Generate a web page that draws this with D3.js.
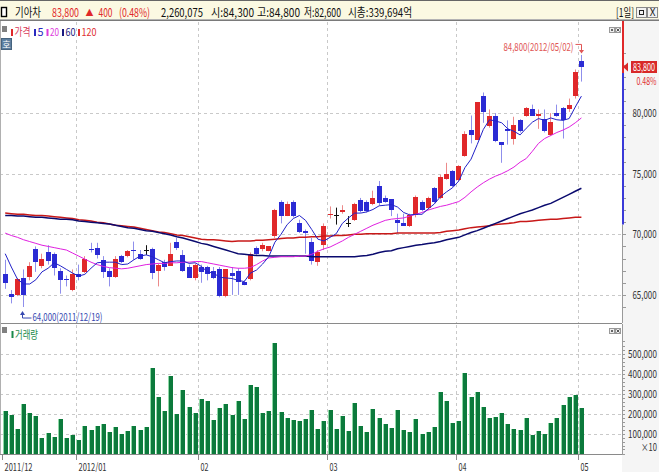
<!DOCTYPE html>
<html><head><meta charset="utf-8">
<script src="https://cdn.jsdelivr.net/npm/d3@7"></script>
<style>html,body{margin:0;padding:0;background:#fff;}svg{display:block;}</style>
</head><body>
<svg id="c" width="659" height="472"></svg>
<script>
// ---------------- DATA ----------------
const dates = ["2011/12/14","2011/12/15","2011/12/16","2011/12/19","2011/12/20","2011/12/21","2011/12/22","2011/12/23","2011/12/26","2011/12/27","2011/12/28","2011/12/29",
"2012/01/02","2012/01/03","2012/01/04","2012/01/05","2012/01/06","2012/01/09","2012/01/10","2012/01/11","2012/01/12","2012/01/13","2012/01/16","2012/01/17","2012/01/18","2012/01/19","2012/01/20","2012/01/25","2012/01/26","2012/01/27","2012/01/30","2012/01/31",
"2012/02/01","2012/02/02","2012/02/03","2012/02/06","2012/02/07","2012/02/08","2012/02/09","2012/02/10","2012/02/13","2012/02/14","2012/02/15","2012/02/16","2012/02/17","2012/02/20","2012/02/21","2012/02/22","2012/02/23","2012/02/24","2012/02/27","2012/02/28","2012/02/29",
"2012/03/02","2012/03/05","2012/03/06","2012/03/07","2012/03/08","2012/03/09","2012/03/12","2012/03/13","2012/03/14","2012/03/15","2012/03/16","2012/03/19","2012/03/20","2012/03/21","2012/03/22","2012/03/23","2012/03/26","2012/03/27","2012/03/28","2012/03/29","2012/03/30",
"2012/04/02","2012/04/03","2012/04/04","2012/04/05","2012/04/06","2012/04/09","2012/04/10","2012/04/12","2012/04/13","2012/04/16","2012/04/17","2012/04/18","2012/04/19","2012/04/20","2012/04/23","2012/04/24","2012/04/25","2012/04/26","2012/04/27","2012/04/30",
"2012/05/02"];
const open = [66700,65100,65000,66400,66500,68800,67400,68500,68400,67000,66300,65400,66700,66900,68800,68900,67900,67000,66500,68200,
68200,68700,68400,68700,68800,67000,67700,67400,69400,68300,67300,66400,67300,67300,67000,67100,64900,66800,67000,66100,
66300,68900,68800,68600,69900,72700,71500,72700,70900,70300,69400,67700,69100,71600,71600,71800,70900,71200,72800,72700,
72500,74000,73000,72900,71200,70900,70700,71600,72700,72200,73800,73000,74600,75200,74500,76500,78600,77800,81400,78900,
79800,77600,78700,77900,79400,79800,80300,79800,79500,78200,80000,80400,80300,81400,84300];
const high = [67900,65400,66400,67100,67700,69000,68400,69100,68500,67200,66600,67100,67500,68200,69300,69300,68200,67200,68200,68300,
68700,69400,68700,69100,68900,67600,67900,69300,69700,68700,67500,67600,67500,67400,67300,67300,67100,67300,67200,66200,
68500,69000,69300,69000,72100,72800,72700,72800,71200,70400,69700,68700,70900,72300,72200,72400,71500,72600,73000,72800,
73600,74400,73200,72900,71700,71700,71700,73200,72800,73100,73900,74900,75900,75300,75700,78500,79800,80900,81700,80300,
80000,77600,79400,79700,79500,80500,80700,80300,80300,80000,80700,80500,81200,83600,84800];
const low = [65500,64300,64900,64000,66200,66900,67200,67500,66600,65100,65700,65300,66200,66800,68500,68000,66400,65700,66400,67600,
68100,67900,67900,68300,66300,65700,67000,67400,68700,66900,66400,66200,66000,66200,66300,64800,64800,65000,65000,65800,
66200,68300,68600,68600,69700,70900,71500,71400,70100,68400,67500,67400,68700,71300,70800,71700,70600,71100,71800,71800,
72400,72400,72600,71500,70100,70700,70600,71400,71900,72000,72600,72900,74500,73900,74400,76400,77500,77800,79200,78800,
77600,75900,77400,77400,78400,79700,79800,78700,78400,78100,79700,77900,80100,81200,82600];
const close = [66000,64800,66300,65000,67400,67700,68000,67800,67200,66200,66200,66700,66500,68000,68700,68300,66900,66500,68000,67700,
68600,68600,68000,68700,66800,67500,67300,68400,68900,67000,66400,67500,66900,66700,66400,64900,67100,66600,66100,65800,
68400,68400,69100,69000,72000,71500,72500,71500,70200,70100,67800,68500,70700,71700,71600,72000,70900,72500,71900,71900,
73000,72600,72700,72000,70900,70700,71600,73100,72000,73000,72700,74700,75000,74000,75600,78300,78200,80900,80100,79800,
77700,77400,78500,79000,78500,80400,79800,79900,78500,79300,79800,79400,80700,83400,83800];
// volume (axis unit: x10 shares)
const volume = [214000,192500,124000,247500,202500,187500,77500,102500,82500,172500,77500,92500,67500,137500,117500,137500,147500,107500,132500,97500,
112500,137500,117500,132500,427500,282500,212500,387500,197500,317500,232500,202500,272500,262500,167500,227500,247500,192500,262500,172500,
342500,332500,202500,212500,552500,207500,177500,167500,162500,172500,217500,122500,162500,217500,122500,187500,112500,252500,137500,107500,
222500,177500,147500,127500,217500,117500,107500,172500,97500,107500,132500,307500,262500,152500,162500,402500,282500,307500,232500,177500,
182500,202500,147500,122500,117500,177500,92500,112500,97500,152500,177500,242500,282500,292500,226008];
const ma5 = [68400,67300,66300,65900,65900,66250,66900,67200,67650,67400,67100,66800,66550,66700,67200,67650,67700,67700,67700,67500,
67550,67900,68200,68300,68150,67900,67650,67750,67800,67800,67600,67650,67350,66900,66800,66450,66400,66350,66200,66100,
66800,67050,67550,68150,69350,70000,70800,71300,71550,71150,70400,69600,69450,69750,70050,70900,71350,71750,71750,71850,
72050,72350,72400,72450,72250,71800,71600,71650,71650,72100,72500,73100,73500,73850,74400,75500,76200,77400,78650,79450,
79350,79200,78700,78500,78200,78750,79250,79550,79400,79600,79450,79400,79550,80500,81400];
const ma20 = [70100,69900,69750,69550,69400,69250,69100,69000,68900,68800,68700,68450,68200,67950,67700,67500,67350,67250,67200,67150,
67200,67300,67400,67500,67550,67600,67600,67650,67650,67700,67700,67750,67750,67650,67550,67450,67350,67250,67200,67200,
67250,67500,67800,68050,68100,68150,68150,68150,68200,68200,68350,68600,68800,68950,69200,69450,69750,70000,70250,70500,
70750,70950,71150,71250,71300,71350,71500,71650,71800,72000,72150,72300,72400,72550,72700,73050,73500,73900,74250,74550,
74800,75000,75250,75550,75950,76250,76850,77500,77900,78150,78400,78600,78850,79200,79600];
const ma60 = [71550,71550,71500,71500,71450,71400,71400,71350,71300,71250,71250,71200,71100,71050,71000,70950,70900,70850,70750,70650,
70550,70500,70400,70300,70250,70150,70050,69950,69800,69700,69550,69400,69250,69150,69000,68850,68700,68550,68400,68350,
68300,68250,68250,68200,68200,68200,68200,68200,68200,68200,68150,68150,68150,68150,68150,68150,68150,68150,68200,68250,
68350,68500,68600,68650,68800,68900,69000,69100,69150,69250,69300,69400,69550,69650,69750,69950,70150,70300,70500,70700,
70900,71100,71300,71500,71700,71850,72000,72200,72400,72550,72800,73050,73300,73550,73800];
const ma120 = [71750,71700,71650,71650,71600,71550,71550,71500,71450,71400,71350,71300,71200,71150,71100,71000,70950,70850,70750,70700,
70650,70600,70500,70400,70300,70200,70150,70050,69950,69900,69800,69700,69600,69550,69550,69500,69450,69400,69450,69450,
69450,69500,69500,69550,69600,69650,69700,69700,69750,69750,69800,69800,69850,69850,69900,69900,69950,70000,70000,70050,
70050,70050,70050,70050,70100,70100,70100,70100,70100,70100,70100,70150,70250,70300,70350,70450,70550,70600,70650,70700,
70800,70850,70900,70950,71050,71050,71100,71150,71200,71250,71250,71300,71350,71400,71400];
const priceTicks = [65000,70000,75000,80000];
const volumeTicks = [100000,200000,300000,400000,500000];
const monthLabels = ["2011/12","2012/01","02","03","04","05"];
const monthFirstDates = ["2011/12/14","2012/01/02","2012/02/01","2012/03/02","2012/04/02","2012/05/02"];
const maNames = ["5","20","60","120"];
const headerInfo = {name:"기아차", price:"83,800", change:"400", pct:"(0.48%)", vol:"2,260,075",
  open:"시:84,300", high:"고:84,800", low:"저:82,600", cap:"시총:339,694억"};
const lastPrice = 83800, lastPct = "0.48%";
const rangeBar = [83300, 70800];

// ---------------- SETUP ----------------
const svg = d3.select("#c");
const FONT = '"Noto Sans CJK KR","Noto Sans",sans-serif';
function txt(p, x, y, s, o = {}) {
  const t = p.append("text").attr("x", x).attr("y", y).text(s)
    .attr("font-family", FONT).attr("font-size", o.size || 11)
    .attr("fill", o.fill || "#222").attr("text-anchor", o.anchor || "start");
  if (o.len) t.attr("textLength", o.len).attr("lengthAdjust", "spacingAndGlyphs");
  if (o.weight) t.attr("font-weight", o.weight);
  return t;
}
const PL = 0, PR = 622, PT = 21, PB = 323, VT = 324, VB = 454;
const N = dates.length;
const x = d3.scaleLinear().domain([0, N - 1]).range([4.7, 580.9]);
const yP = d3.scaleLinear().domain([65000, 80000]).range([294.9, 113.1]);
const yV = d3.scaleLinear().domain([0, 500000]).range([453.5, 353.5]);
const cx = i => Math.round(x(i));
const crisp = v => Math.round(v) + 0.5;

const RED = "#e0282a", BLUE = "#2b2bd4";

// backgrounds
svg.append("rect").attr("width", 659).attr("height", 472).attr("fill", "#fff");
svg.append("rect").attr("x", PR).attr("y", PT).attr("width", 659 - PR).attr("height", 472 - PT).attr("fill", "#f5f5f5");

// ---------------- HEADER ----------------
svg.append("rect").attr("x", 0).attr("y", 0).attr("width", 659).attr("height", 20).attr("fill", "#fbf9e2");
svg.append("line").attr("x1", 0).attr("x2", 659).attr("y1", 0.5).attr("y2", 0.5).attr("stroke", "#666");
svg.append("line").attr("x1", 0).attr("x2", 659).attr("y1", 19.5).attr("y2", 19.5).attr("stroke", "#b4b4b4");
svg.append("line").attr("x1", 0).attr("x2", 659).attr("y1", 20.5).attr("y2", 20.5).attr("stroke", "#7a7a7a");
svg.append("rect").attr("x", 1.5).attr("y", 7.5).attr("width", 5).attr("height", 9).attr("fill", "#fff").attr("stroke", "#000").attr("stroke-width", 1.4);
const hb = 16.8;
txt(svg, 15, hb, headerInfo.name, {size: 12, len: 26, fill: "#111"});
txt(svg, 52, hb, headerInfo.price, {size: 12, len: 27, fill: RED});
txt(svg, 85.5, hb - 0.5, "▲", {size: 9, len: 8, fill: RED});
txt(svg, 98.5, hb, headerInfo.change, {size: 12, len: 14, fill: RED});
txt(svg, 119, hb, headerInfo.pct, {size: 12, len: 31, fill: RED});
txt(svg, 161, hb, headerInfo.vol, {size: 12, len: 42, fill: "#111"});
txt(svg, 211, hb, headerInfo.open, {size: 12, len: 43, fill: "#111"});
txt(svg, 257, hb, headerInfo.high, {size: 12, len: 43, fill: "#111"});
txt(svg, 304, hb, headerInfo.low, {size: 12, len: 37, fill: "#111"});
txt(svg, 348, hb, headerInfo.cap, {size: 12, len: 64, fill: "#111"});
txt(svg, 616, hb, "[1일]", {size: 12, len: 18, fill: "#111"});
svg.append("rect").attr("x", 636.5).attr("y", 7.5).attr("width", 10).attr("height", 10).attr("fill", "#f2f2f2").attr("stroke", "#8a8a8a");
svg.append("rect").attr("x", 639.5).attr("y", 10.5).attr("width", 4).attr("height", 4).attr("fill", "none").attr("stroke", "#222");
svg.append("rect").attr("x", 647.5).attr("y", 7.5).attr("width", 10).attr("height", 10).attr("fill", "#f2f2f2").attr("stroke", "#8a8a8a");
txt(svg, 652.5, 16, "X", {size: 10, anchor: "middle", fill: "#222"});

// ---------------- GRID ----------------
const grid = svg.append("g").attr("stroke", "#c9c9c9").attr("stroke-dasharray", "3,3").attr("stroke-width", 1);
const monthIdx = monthFirstDates.map(d => dates.indexOf(d));
const monthX = monthIdx.map(i => crisp(x(i) - 2.5));
monthX.forEach((mx, k) => {
  if (k === 0) return;
  grid.append("line").attr("x1", mx).attr("x2", mx).attr("y1", PT + 1).attr("y2", PB);
  grid.append("line").attr("x1", mx).attr("x2", mx).attr("y1", VT + 1).attr("y2", VB);
});
priceTicks.forEach(p => grid.append("line").attr("x1", PL).attr("x2", PR).attr("y1", crisp(yP(p))).attr("y2", crisp(yP(p))));
volumeTicks.forEach(v => grid.append("line").attr("x1", PL).attr("x2", PR).attr("y1", crisp(yV(v))).attr("y2", crisp(yV(v))));

// ---------------- CANDLES ----------------
const cg = svg.append("g");
d3.range(N).forEach(i => {
  const o = open[i], c = close[i], h = high[i], l = low[i];
  const up = c > o, doji = c === o;
  const col = doji ? "#111" : (up ? RED : BLUE);
  const wcol = doji ? "#111" : (up ? "#ec8a8a" : "#8f8fec");
  const X = cx(i);
  cg.append("line").attr("x1", X + 0.5).attr("x2", X + 0.5)
    .attr("y1", yP(h)).attr("y2", yP(l)).attr("stroke", wcol).attr("stroke-width", 1);
  if (doji) {
    cg.append("line").attr("x1", X - 2).attr("x2", X + 3).attr("y1", crisp(yP(o))).attr("y2", crisp(yP(o)))
      .attr("stroke", col).attr("stroke-width", 1);
  } else {
    const yt = yP(Math.max(o, c)), yb = yP(Math.min(o, c));
    cg.append("rect").attr("x", X - 2).attr("width", 5)
      .attr("y", Math.round(yt)).attr("height", Math.max(1, Math.round(yb) - Math.round(yt)))
      .attr("fill", col);
  }
});

// ---------------- MOVING AVERAGES ----------------
const line = arr => d3.line().x((d, i) => x(i) + 0.5).y(d => yP(d))(arr);
svg.append("path").attr("d", line(ma120)).attr("fill", "none").attr("stroke", "#c81818").attr("stroke-width", 1.5);
svg.append("path").attr("d", line(ma60)).attr("fill", "none").attr("stroke", "#0a0a6e").attr("stroke-width", 1.5);
svg.append("path").attr("d", line(ma20)).attr("fill", "none").attr("stroke", "#e020e0").attr("stroke-width", 1);
svg.append("path").attr("d", line(ma5)).attr("fill", "none").attr("stroke", "#2222c8").attr("stroke-width", 1);

// ---------------- ANNOTATIONS ----------------
const hiIdx = high.indexOf(d3.max(high)), loIdx = low.indexOf(d3.min(low));
const hx = cx(hiIdx) + 0.5, hy = yP(high[hiIdx]);
const ann = svg.append("g");
txt(ann, hx - 8, hy - 4, d3.format(",")(high[hiIdx]) + "(" + dates[hiIdx] + ")", {size: 11, len: 70, fill: "#e05555", anchor: "end"});
ann.append("path").attr("d", `M${hx - 6},${hy - 10.5}H${hx}V${hy - 3}`).attr("fill", "none").attr("stroke", "#e05555");
ann.append("path").attr("d", `M${hx - 2.5},${hy - 5}L${hx + 2.5},${hy - 5}L${hx},${hy - 1.5}Z`).attr("fill", "#e05555");
const lx = cx(loIdx) + 0.5, ly = yP(low[loIdx]);
ann.append("path").attr("d", `M${lx - 1},${ly + 5}V${ly + 11}H${lx + 8}`).attr("fill", "none").attr("stroke", "#3548b0");
ann.append("path").attr("d", `M${lx - 3.5},${ly + 8}L${lx + 1.5},${ly + 8}L${lx - 1},${ly + 4}Z`).attr("fill", "#3548b0");
txt(ann, lx + 9, ly + 14, d3.format(",")(low[loIdx]) + "(" + dates[loIdx] + ")", {size: 11, len: 70, fill: "#3548b0"});

// ---------------- VOLUME ----------------
const vg = svg.append("g");
d3.range(N).forEach(i => {
  const X = cx(i);
  const yt = Math.round(yV(volume[i]));
  vg.append("rect").attr("x", X - 2).attr("width", 1).attr("y", yt).attr("height", VB - yt).attr("fill", "#8fd9a6");
  vg.append("rect").attr("x", X - 1).attr("width", 4).attr("y", yt).attr("height", VB - yt).attr("fill", "#0c7a3c");
});

// ---------------- FRAMES / AXES ----------------
const fr = svg.append("g");
fr.append("line").attr("x1", 0).attr("x2", PR).attr("y1", PB + 0.5).attr("y2", PB + 0.5).attr("stroke", "#8a8a8a");
fr.append("line").attr("x1", 0).attr("x2", PR).attr("y1", VB + 0.5).attr("y2", VB + 0.5).attr("stroke", "#8a8a8a");
fr.append("line").attr("x1", 0.5).attr("x2", 0.5).attr("y1", PT).attr("y2", VB).attr("stroke", "#b0b0b0");
// x-axis ticks and labels
monthX.forEach((mx, k) => {
  fr.append("line").attr("x1", mx).attr("x2", mx).attr("y1", VB).attr("y2", VB + 6).attr("stroke", "#8a8a8a");
  const lab = monthLabels[k];
  txt(fr, mx + 2, 470.5, lab, {size: 11, fill: "#333", len: lab.length > 2 ? 28 : 8});
});
// right price axis
const yTop = yP(rangeBar[0]), yBot = yP(rangeBar[1]);
d3.range(64000, 85001, 1000).forEach(p => {
  const yy = crisp(yP(p));
  if (yy > PT && yy < PB) fr.append("line").attr("x1", PR).attr("x2", PR + 4).attr("y1", yy).attr("y2", yy).attr("stroke", "#9a9a9a");
});
fr.append("line").attr("x1", PR + 0.5).attr("x2", PR + 0.5).attr("y1", yBot).attr("y2", PB).attr("stroke", "#9a9a9a");
fr.append("line").attr("x1", PR + 1).attr("x2", PR + 1).attr("y1", PT).attr("y2", yTop).attr("stroke", "#e0282a").attr("stroke-width", 2);
fr.append("line").attr("x1", PR + 1).attr("x2", PR + 1).attr("y1", yTop).attr("y2", yBot).attr("stroke", "#3a3ad8").attr("stroke-width", 2);
priceTicks.forEach(p => txt(fr, 656.5, yP(p) + 4, d3.format(",")(p), {size: 11, anchor: "end", len: 24, fill: "#333"}));
// current price marker
const yc = yP(lastPrice);
fr.append("path").attr("d", `M${PR + 1},${yc}L${PR + 6},${yc - 4.5}L${PR + 6},${yc + 4.5}Z`).attr("fill", "#d82828");
fr.append("rect").attr("x", 631).attr("y", Math.round(yc) - 6).attr("width", 26).attr("height", 12).attr("fill", "#d82828");
txt(fr, 644, yc + 4, d3.format(",")(lastPrice), {size: 10.5, anchor: "middle", len: 22, fill: "#fff"});
txt(fr, 656.5, yc + 18, lastPct, {size: 10.5, anchor: "end", len: 20, fill: "#e03030"});
// right volume axis
fr.append("line").attr("x1", PR + 0.5).attr("x2", PR + 0.5).attr("y1", VT).attr("y2", VB).attr("stroke", "#9a9a9a");
d3.range(0, 560001, 20000).forEach(v => {
  const yy = crisp(yV(v));
  fr.append("line").attr("x1", PR).attr("x2", PR + 3).attr("y1", yy).attr("y2", yy).attr("stroke", "#9a9a9a");
});
volumeTicks.forEach(v => txt(fr, 657, yV(v) + 4, d3.format(",")(v), {size: 11, anchor: "end", len: 29, fill: "#333"}));
txt(fr, 657, 451, "×10", {size: 10.5, anchor: "end", len: 16, fill: "#333"});

// ---------------- LEGENDS ----------------
const lg = svg.append("g");
lg.append("rect").attr("x", 2).attr("y", 26).attr("width", 5).attr("height", 6).attr("fill", "#808080");
const legItems = [
  {label: "가격", color: "#d8385a", mark: RED, x: 11, len: 16},
  {label: maNames[0], color: "#2a2ac0", mark: "#2a2ac0", x: 34, len: 6},
  {label: maNames[1], color: "#dd3add", mark: "#dd3add", x: 46.5, len: 9},
  {label: maNames[2], color: "#1a1a80", mark: "#1a1a80", x: 62, len: 10},
  {label: maNames[3], color: "#e03030", mark: "#e03030", x: 78, len: 15}
];
legItems.forEach(it => {
  lg.append("rect").attr("x", it.x).attr("y", 29).attr("width", 2).attr("height", 7).attr("fill", it.mark);
  txt(lg, it.x + 3.5, 36.2, it.label, {size: 11, len: it.len, fill: it.color});
});
lg.append("rect").attr("x", 1.5).attr("y", 38.5).attr("width", 10).attr("height", 11).attr("fill", "#5d7f9f").attr("stroke", "#46637e");
txt(lg, 6.5, 47.8, "호", {size: 9, anchor: "middle", fill: "#fff"});
// volume legend
lg.append("rect").attr("x", 2).attr("y", 327).attr("width", 5).attr("height", 6).attr("fill", "#808080");
lg.append("rect").attr("x", 11.5).attr("y", 331).attr("width", 2).attr("height", 7).attr("fill", "#1a8a4a");
txt(lg, 15, 339, "거래량", {size: 11, len: 23, fill: "#1a8a4a"});
// small panel buttons
[[609, 27], [609, 328]].forEach(([bx, by]) => {
  lg.append("rect").attr("x", bx + 0.5).attr("y", by + 0.5).attr("width", 5).attr("height", 5).attr("fill", "#eee").attr("stroke", "#999");
  lg.append("rect").attr("x", bx + 2).attr("y", by + 2).attr("width", 2).attr("height", 2).attr("fill", "#666");
  lg.append("rect").attr("x", bx + 6.5).attr("y", by + 0.5).attr("width", 5).attr("height", 5).attr("fill", "#eee").attr("stroke", "#999");
  lg.append("path").attr("d", `M${bx + 7.5},${by + 1.5}L${bx + 10.5},${by + 4.5}M${bx + 10.5},${by + 1.5}L${bx + 7.5},${by + 4.5}`).attr("stroke", "#555");
});
</script>
</body></html>
